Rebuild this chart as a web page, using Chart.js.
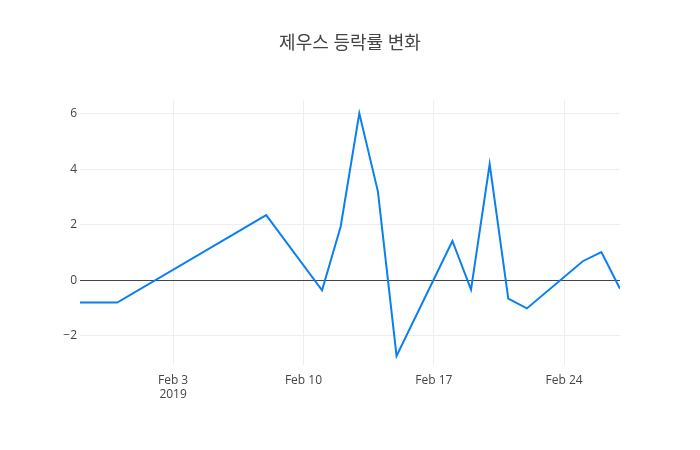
<!DOCTYPE html>
<html>
<head>
<meta charset="utf-8">
<script src="https://cdn.jsdelivr.net/npm/chart.js@4/dist/chart.umd.min.js"></script>
<style>
  html, body { margin: 0; padding: 0; background: #fff; }
  #wrap { width: 700px; height: 450px; position: relative; }
</style>
</head>
<body>
<div id="wrap"><canvas id="chart-rate"></canvas></div>
<script>
// ── Data ──────────────────────────────────────────────────────
const chartTitle = '제우스 등락률 변화';
const dates = [
  '2019-01-29', '2019-01-31', '2019-02-08', '2019-02-11', '2019-02-12',
  '2019-02-13', '2019-02-14', '2019-02-15', '2019-02-18', '2019-02-19',
  '2019-02-20', '2019-02-21', '2019-02-22', '2019-02-25', '2019-02-26',
  '2019-02-27',
];
const rates = [
  -0.8, -0.8, 2.35, -0.36, 1.94,
  6.02, 3.2, -2.72, 1.42, -0.33,
  4.19, -0.66, -1.01, 0.69, 1.02,
  -0.3,
];
const xTickDates = ['2019-02-03', '2019-02-10', '2019-02-17', '2019-02-24'];
const yTicks = [-2, 0, 2, 4, 6];

const MONTHS = ['Jan','Feb','Mar','Apr','May','Jun','Jul','Aug','Sep','Oct','Nov','Dec'];
const toMs = (s) => Date.parse(s + 'T00:00:00Z');

const FONT = "'Open Sans', 'Noto Sans CJK KR', sans-serif";
Chart.defaults.font.family = FONT;
Chart.defaults.color = '#444';

// Title drawn by hand so the plot area can be placed like the reference
const titlePlugin = {
  id: 'plotTitle',
  afterDraw(chart) {
    const c = chart.ctx;
    c.save();
    c.font = "18px 'Open Sans', 'Noto Sans CJK KR', sans-serif";
    c.fillStyle = '#444';
    c.textAlign = 'center';
    c.textBaseline = 'middle';
    c.fillText(chartTitle, 350, 44);
    c.restore();
  },
};

new Chart(document.getElementById('chart-rate').getContext('2d'), {
  type: 'line',
  data: {
    datasets: [
      {
        label: '등락률',
        data: dates.map((d, i) => ({ x: toMs(d), y: rates[i] })),
        borderColor: '#0a80f0',
        borderWidth: 2,
        pointRadius: 0,
        tension: 0,
        fill: false,
      },
    ],
  },
  options: {
    responsive: true,
    maintainAspectRatio: false,
    animation: false,
    layout: { padding: { left: 0, right: 80, top: 100, bottom: 0 } },
    plugins: {
      legend: { display: false },
      tooltip: { enabled: false },
    },
    scales: {
      x: {
        type: 'linear',
        min: toMs(dates[0]),
        max: toMs(dates[dates.length - 1]),
        afterBuildTicks: (scale) => {
          scale.ticks = xTickDates.map((d) => ({ value: toMs(d) }));
        },
        afterFit: (scale) => { scale.height = 85; },
        ticks: {
          autoSkip: false,
          maxRotation: 0,
          padding: 8,
          font: { size: 12 },
          color: '#444',
          callback: (v, i) => {
            const dt = new Date(v);
            const lbl = MONTHS[dt.getUTCMonth()] + ' ' + dt.getUTCDate();
            return i === 0 ? [lbl, String(dt.getUTCFullYear())] : lbl;
          },
        },
        grid: { color: '#eee', drawTicks: false },
        border: { display: false },
      },
      y: {
        min: -3.05,
        max: 6.5,
        afterBuildTicks: (scale) => {
          scale.ticks = yTicks.map((v) => ({ value: v }));
        },
        afterFit: (scale) => { scale.width = 80; },
        ticks: {
          padding: 3,
          font: { size: 12 },
          color: '#444',
          callback: (v) => (v < 0 ? '\u2212' + Math.abs(v) : String(v)),
        },
        grid: {
          drawTicks: false,
          color: (ctx) => (ctx.tick && ctx.tick.value === 0 ? '#444' : '#eee'),
          lineWidth: 1,
        },
        border: { display: false },
      },
    },
  },
  plugins: [titlePlugin],
});
</script>
</body>
</html>
